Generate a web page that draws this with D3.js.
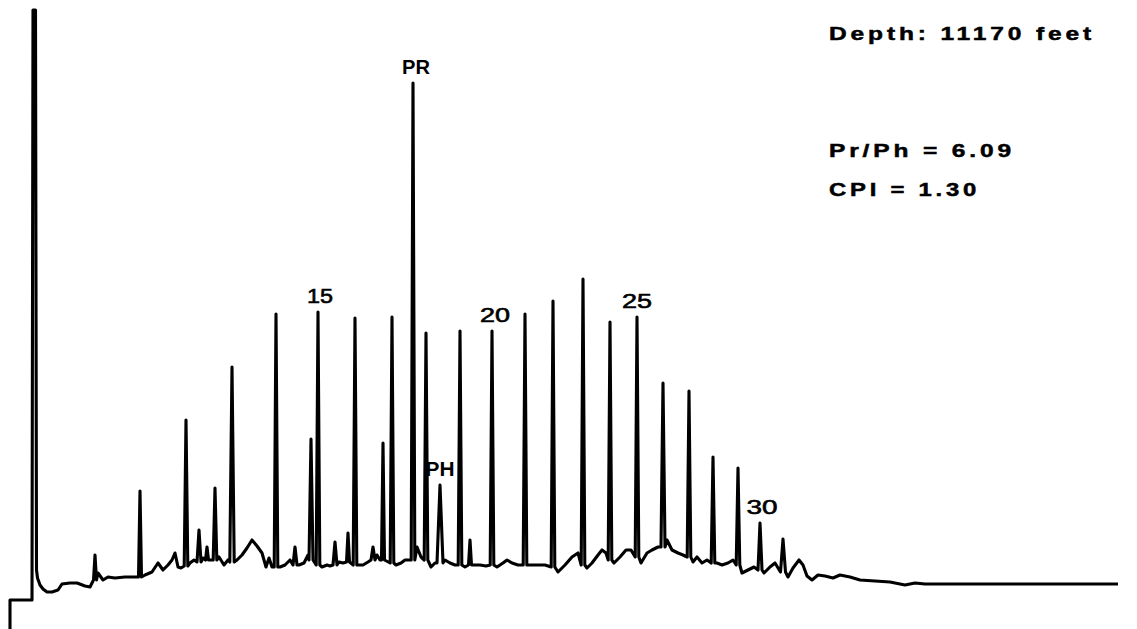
<!DOCTYPE html>
<html><head><meta charset="utf-8">
<script src="https://cdn.jsdelivr.net/npm/d3@7"></script>
<style>html,body{margin:0;padding:0;background:#fff;}svg{display:block;}</style>
</head><body>
<svg id="c" width="1137" height="629"></svg>
<script>
// Solvent front + injection step: [retention time, response]
const solventPoints = [[10,-29],[10,0],[32,0],[33,590],[35.5,590],[36.5,30],[37.5,22],[40,15],[43,11],[47,8],[52,8]];
// Baseline (unresolved hump) points: [retention time, response]
const baselinePoints = [[52,8],[58,10],[62,16],[70,17],[77,17],[85,14],[90,13],[98,27],[103,20],[108,23],[115,22],[125,23],[133,23],[145,25],[152,28],[158,37],[163,30],[168,35],[172,40],[175,47],[178,33],[181,32],[190,37],[194,40],[203,42],[210,40],[219,43],[224,35],[228,40],[237,40],[242,45],[247,52],[252,60],[257,54],[262,47],[266,33],[269,42],[272,33],[280,33],[285,35],[290,40],[299,35],[304,37],[308,45],[322,33],[327,35],[330,34],[339,38],[343,37],[359,35],[363,35],[368,38],[377,45],[380,40],[396,35],[401,37],[405,40],[417,53],[421,43],[431,33],[435,37],[445,40],[450,37],[455,35],[465,33],[474,35],[480,35],[486,34],[497,33],[503,37],[507,40],[512,37],[518,35],[530,35],[537,35],[545,35],[558,28],[565,35],[572,43],[578,47],[587,32],[592,37],[598,45],[602,50],[606,47],[614,37],[620,43],[626,50],[631,50],[641,37],[647,47],[652,50],[658,53],[667,60],[672,50],[678,47],[683,45],[693,38],[697,43],[702,37],[707,40],[717,37],[722,35],[728,37],[733,40],[742,27],[748,30],[754,33],[764,27],[770,33],[775,37],[788,23],[793,32],[799,40],[803,35],[807,24],[812,20],[818,25],[825,24],[833,22],[840,25],[850,23],[860,20],[875,19],[890,18],[905,15],[915,17],[925,16],[1118,16]];
// Resolved peaks: retention time, apex response, foot response, half width
const peakTimes   = [95,140,186,199,207,215,232,276,295,311,318,335,348,355,373,383,392,413,426,440,460,470,492,525,553,583,610,637,663,689,713,738,760,783];
const peakApex    = [45,109,180,70,53,112,233,286,53,161,288,58,67,282,53,157,283,517,267,115,269,60,269,286,299,321,278,283,217,209,143,132,77,61];
const peakFoot    = [20,23,34,38,40,40,38,33,35,40,35,35,38,35,40,40,37,40,40,37,35,35,35,35,33,35,40,43,53,43,37,35,30,28];
const peakHalfW   = [1.5,1.5,1.8,2,1.5,1.8,2.2,1.8,2,2,1.8,2,1.5,1.8,2,1.5,1.8,1.8,1.8,3,1.8,1.5,1.8,1.8,1.8,1.8,1.8,1.8,2,1.8,1.8,1.8,2,2.5];
// Peak labels
const labelTexts  = ["15","PR","PH","20","25","30"];
const labelPeaks  = [318,413,440,492,637,760];
// Annotations
const infoTexts   = ["Depth: 11170 feet","Pr/Ph = 6.09","CPI = 1.30"];

const svg = d3.select("#c");
const x = d3.scaleLinear().domain([0,1137]).range([0,1137]);
const y = d3.scaleLinear().domain([-29,600]).range([629,0]);

// assemble trace
let pts = baselinePoints.slice(1).map(d=>({t:d[0],r:d[1]}));
peakTimes.forEach((t,i)=>{
  pts.push({t:t-peakHalfW[i], r:peakFoot[i]});
  pts.push({t:t, r:peakApex[i]});
  pts.push({t:t+peakHalfW[i], r:peakFoot[i]});
});
pts.sort((a,b)=>a.t-b.t);
const trace = solventPoints.map(d=>({t:d[0],r:d[1]})).concat(pts);

const line = d3.line().x(d=>x(d.t)).y(d=>y(d.r)).curve(d3.curveLinear);
svg.append("path").datum(trace).attr("d",line)
  .attr("fill","none").attr("stroke","#000").attr("stroke-width",3.1)
  .attr("stroke-linejoin","round").attr("stroke-linecap","butt");

// peak labels
const labelWidths = {"15":26,"PR":28,"PH":29,"20":30,"25":30,"30":31};
const labelShift  = {"15":2,"PR":3,"PH":0,"20":3,"25":0,"30":2};
labelTexts.forEach((txt,i)=>{
  const idx = peakTimes.indexOf(labelPeaks[i]);
  const cx = x(labelPeaks[i]) + labelShift[txt];
  svg.append("text").text(txt)
    .attr("x", cx - labelWidths[txt]/2)
    .attr("y", y(peakApex[idx]) - 9)
    .attr("textLength", labelWidths[txt]).attr("lengthAdjust","spacingAndGlyphs")
    .attr("font-family","Liberation Sans, Arial, sans-serif")
    .attr("font-weight", (txt==="PR"||txt==="PH")?"bold":"normal")
    .attr("font-size", 20).attr("fill","#000")
    .attr("stroke", (txt==="PR"||txt==="PH")?"none":"#000").attr("stroke-width",0.6);
});

// info text block
const infoY = [40,157,196];
const infoW = [266,186,151];
infoTexts.forEach((txt,i)=>{
  svg.append("text").text(txt)
    .attr("x",829).attr("y",infoY[i])
    .attr("textLength",infoW[i]).attr("lengthAdjust","spacingAndGlyphs")
    .attr("font-family","Liberation Sans, Arial, sans-serif")
    .attr("font-weight","bold").attr("font-size",19).attr("letter-spacing",3)
    .attr("fill","#000").attr("stroke","#000").attr("stroke-width",0.5);
});
</script>
</body></html>
